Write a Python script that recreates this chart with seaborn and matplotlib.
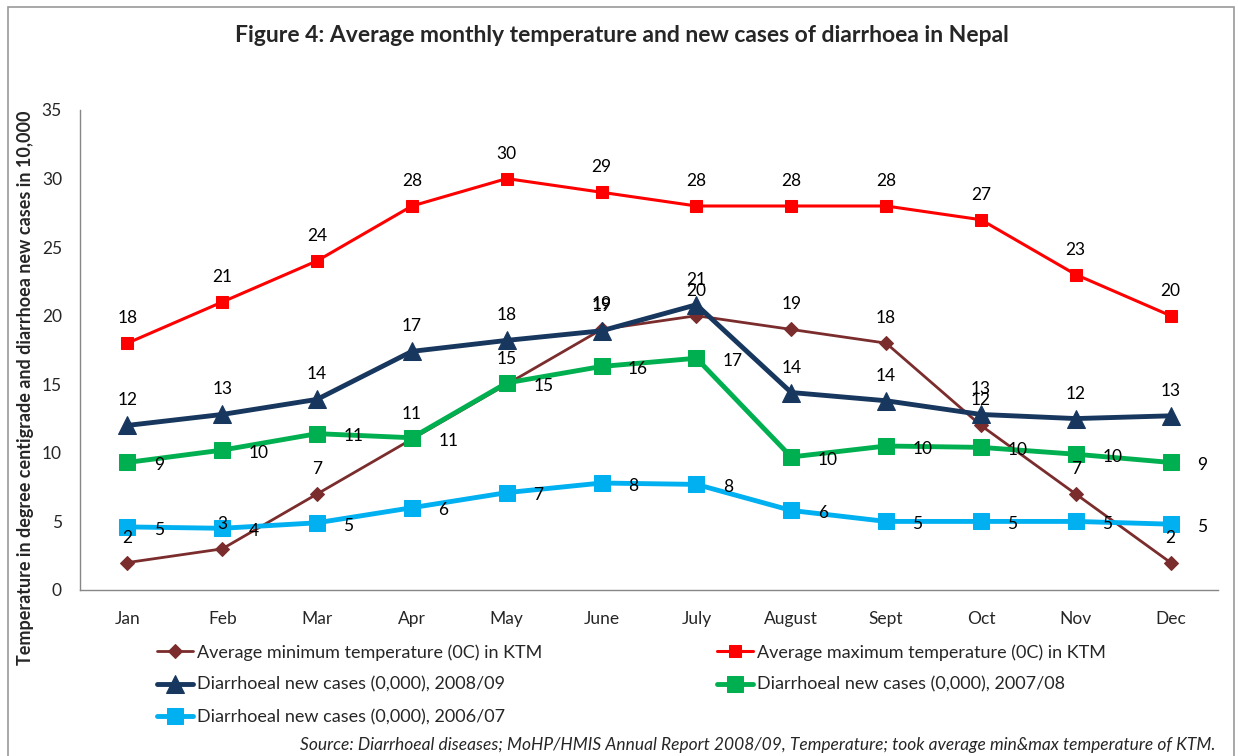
import numpy as np
import pandas as pd
import matplotlib.pyplot as plt
import seaborn as sns
from matplotlib.patches import Rectangle

months = ["Jan", "Feb", "Mar", "Apr", "May", "June", "July", "August", "Sept", "Oct", "Nov", "Dec"]
min_temp = [2, 3, 7, 11, 15, 19, 20, 19, 18, 12, 7, 2]
max_temp = [18, 21, 24, 28, 30, 29, 28, 28, 28, 27, 23, 20]
cases_0809 = [12.0, 12.8, 13.9, 17.4, 18.2, 18.9, 20.8, 14.4, 13.8, 12.8, 12.5, 12.7]
cases_0708 = [9.3, 10.2, 11.4, 11.1, 15.1, 16.3, 16.9, 9.7, 10.5, 10.4, 9.9, 9.3]
cases_0607 = [4.6, 4.5, 4.9, 6.0, 7.1, 7.8, 7.7, 5.8, 5.0, 5.0, 5.0, 4.8]

lbl_min = [2, 3, 7, 11, 15, 19, 20, 19, 18, 12, 7, 2]
lbl_max = [18, 21, 24, 28, 30, 29, 28, 28, 28, 27, 23, 20]
lbl_0809 = [12, 13, 14, 17, 18, 19, 21, 14, 14, 13, 12, 13]
lbl_0708 = [9, 10, 11, 11, 15, 16, 17, 10, 10, 10, 10, 9]
lbl_0607 = [5, 4, 5, 6, 7, 8, 8, 6, 5, 5, 5, 5]

sns.set_style("white")
plt.rcParams['font.family'] = ['Lato', 'DejaVu Sans']

fig = plt.figure(figsize=(12.38, 7.56), dpi=100)
ax = fig.add_axes([80 / 1238, 1 - 590 / 756, 1138 / 1238, 480 / 756])

x = np.arange(len(months))
series = [
    ("Average minimum temperature (0C) in KTM", min_temp, lbl_min, "#7B2C2C", "D", 7, 2.0, "above"),
    ("Average maximum temperature (0C) in KTM", max_temp, lbl_max, "#FF0000", "s", 8.5, 2.2, "above"),
    ("Diarrhoeal new cases (0,000), 2008/09", cases_0809, lbl_0809, "#17375E", "^", 13, 3.5, "above"),
    ("Diarrhoeal new cases (0,000), 2007/08", cases_0708, lbl_0708, "#00B050", "s", 11, 3.5, "right"),
    ("Diarrhoeal new cases (0,000), 2006/07", cases_0607, lbl_0607, "#00B0F0", "s", 11, 3.5, "right"),
]

handles = {}
for name, vals, lbls, color, marker, ms, lw, pos in series:
    df = pd.DataFrame({"x": x, "y": vals})
    sns.lineplot(data=df, x="x", y="y", ax=ax, color=color, marker=marker,
                 markersize=ms, linewidth=lw, markeredgecolor=color, label=name)
    handles[name] = ax.get_lines()[-1]
    for i, (v, t) in enumerate(zip(vals, lbls)):
        if pos == "above":
            off, ha, va = (0, 18), "center", "center"
        else:
            off, ha, va = (19, -2), "left", "center"
        ax.annotate(str(t), (i, v), xytext=off, textcoords="offset points",
                    ha=ha, va=va, fontsize=12.5, color="black")

ax.get_legend().remove()
ax.set_xlim(-0.5, 11.5)
ax.set_ylim(0, 35)
ax.set_yticks(range(0, 36, 5))
ax.set_xticks(np.arange(-0.5, 12, 1))
ax.set_xticklabels([])
ax.set_xticks(x, minor=True)
ax.set_xticklabels(months, minor=True)
ax.tick_params(axis="x", which="minor", length=0, pad=15, labelsize=12.5)
ax.tick_params(axis="x", which="major", length=5, color="#878787", direction="out")
ax.tick_params(axis="y", length=5, color="#878787", direction="out", labelsize=12.5, pad=8)
ax.set_xlabel("")
ax.set_ylabel("")
for s in ["top", "right"]:
    ax.spines[s].set_visible(False)
for s in ["left", "bottom"]:
    ax.spines[s].set_color("#878787")
    ax.spines[s].set_linewidth(1)

fig.text(622 / 1238, 1 - 35 / 756, "Figure 4: Average monthly temperature and new cases of diarrhoea in Nepal",
         ha="center", va="center", fontsize=16.5, fontweight="bold")
fig.text(26 / 1238, 1 - 388 / 756, "Temperature in degree centigrade and diarrhoea new cases in 10,000",
         rotation=90, ha="center", va="center", fontsize=13, fontweight="bold")
fig.text(1215 / 1238, 1 - 745 / 756,
         "Source: Diarrhoeal diseases; MoHP/HMIS Annual Report 2008/09, Temperature; took average min&max temperature of KTM.",
         ha="right", va="center", fontsize=12.5, style="italic")

order = [series[0][0], series[2][0], series[4][0], series[1][0], series[3][0]]
fig.legend([handles[n] for n in order], order, ncol=2, loc="upper left",
           bbox_to_anchor=(157 / 1238, 1 - 644 / 756), frameon=False, fontsize=13,
           handlelength=2.0, handletextpad=0.2, columnspacing=9.7, labelspacing=0.9,
           borderaxespad=0, borderpad=0)

fig.add_artist(Rectangle((8 / 1238, -0.02), 1226 / 1238, 1.02 - 7 / 756, transform=fig.transFigure,
                         fill=False, edgecolor="#9a9a9a", linewidth=1.2))

plt.savefig("out.png", dpi=100)
